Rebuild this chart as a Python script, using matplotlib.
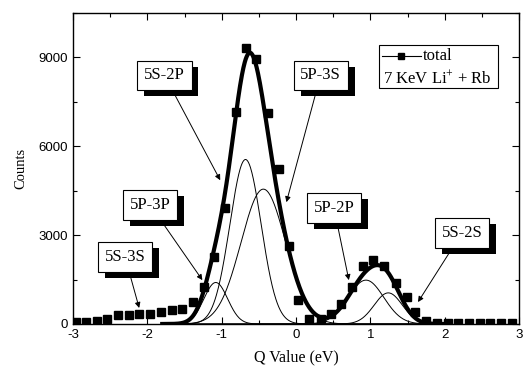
import numpy as np
import matplotlib
matplotlib.use("Agg")
import matplotlib.pyplot as plt
import matplotlib.patheffects as pe
from matplotlib.ticker import MultipleLocator, FuncFormatter
from matplotlib.patches import Rectangle
from matplotlib.lines import Line2D

plt.rcParams["mathtext.fontset"] = "custom"
plt.rcParams["mathtext.rm"] = "Liberation Serif"
plt.rcParams["mathtext.it"] = "Liberation Serif:italic"

# measured data points (total)
q_data = [-2.96, -2.82, -2.68, -2.54, -2.39, -2.25, -2.11, -1.96, -1.82, -1.67,
          -1.53, -1.39, -1.24, -1.10, -0.96, -0.81, -0.67, -0.54, -0.38, -0.23,
          -0.09, 0.03, 0.18, 0.33, 0.47, 0.61, 0.75, 0.90, 1.04, 1.18,
          1.34, 1.49, 1.60, 1.75, 1.89, 2.04, 2.18, 2.33, 2.47, 2.61, 2.76, 2.90]
counts_data = [80, 80, 110, 170, 290, 290, 350, 330, 390, 480,
               520, 740, 1250, 2260, 3910, 7150, 9310, 8940, 7120, 5220,
               2620, 800, 170, 170, 330, 670, 1240, 1960, 2170, 1940,
               1370, 920, 400, 110, 20, 20, 20, 20, 20, 20, 20, 20]

# fitted Gaussian components: name, centre (eV), amplitude (counts), sigma (eV)
comp_names = ["5P-3P", "5S-2P", "5P-3S", "5P-2P", "5S-2S"]
comp_centres = [-1.08, -0.68, -0.44, 0.94, 1.24]
comp_amps = [1400, 5550, 4550, 1480, 1050]
comp_sigmas = [0.16, 0.21, 0.30, 0.24, 0.19]

# annotation labels: text position and arrow tip (data coords)
label_names = ["5S-2P", "5P-3S", "5P-3P", "5S-3S", "5P-2P", "5S-2S"]
label_text_xy = [(-1.77, 8390), (0.33, 8390), (-1.96, 4010), (-2.30, 2260), (0.51, 3910), (2.23, 3070)]
label_tip_xy = [(-1.02, 4850), (-0.13, 4110), (-1.26, 1480), (-2.11, 540), (0.71, 1480), (1.64, 740)]

legend_labels = ["total", "7 KeV Li$^{+}$ + Rb"]

serif = ["Liberation Serif", "DejaVu Serif"]
sans = ["Liberation Sans", "DejaVu Sans"]

fig = plt.figure(figsize=(5.23, 3.67), dpi=100)
ax = fig.add_axes([0.1396, 0.1172, 0.853, 0.848])

xs = np.linspace(-1.8, 2.0, 600)
total = np.zeros_like(xs)
for c, a, s in zip(comp_centres, comp_amps, comp_sigmas):
    g = a * np.exp(-(xs - c) ** 2 / (2 * s ** 2))
    total += g
    ax.plot(xs, g, color="black", lw=0.7)
ax.plot(xs, total, color="black", lw=3.0)
ax.plot(q_data, counts_data, ls="none", marker="s", ms=5.5, color="black")

ax.set_xlim(-3, 3)
ax.set_ylim(0, 10500)
ax.xaxis.set_major_locator(MultipleLocator(1))
ax.xaxis.set_minor_locator(MultipleLocator(0.5))
ax.yaxis.set_major_locator(MultipleLocator(3000))
ax.yaxis.set_minor_locator(MultipleLocator(1500))
ax.tick_params(which="both", direction="in", top=True, right=True, width=0.8)
ax.tick_params(which="major", length=5, labelsize=9.5)
ax.tick_params(which="minor", length=3)
ax.xaxis.set_major_formatter(FuncFormatter(lambda v, p: f"{v:g}"))
for lab in ax.get_xticklabels() + ax.get_yticklabels():
    lab.set_fontfamily(sans)
for sp in ax.spines.values():
    sp.set_linewidth(1.0)

ax.set_xlabel("Q Value (eV)", fontfamily=serif, fontsize=11.5, labelpad=6)
ax.set_ylabel("Counts", fontfamily=serif, fontsize=10.5, labelpad=8)

for name, txy, tip in zip(label_names, label_text_xy, label_tip_xy):
    t = ax.annotate(name, xy=tip, xytext=txy, ha="center", va="center",
                    fontfamily=serif, fontsize=12,
                    bbox=dict(boxstyle="square,pad=0.4", fc="white", ec="black", lw=0.8),
                    arrowprops=dict(arrowstyle="-|>", color="black", lw=0.7,
                                    mutation_scale=8, shrinkA=0, shrinkB=0))
    t.get_bbox_patch().set_path_effects([
        pe.SimplePatchShadow(offset=(5, -4.3), shadow_rgbFace="black", alpha=1.0),
        pe.Normal()])

# legend box drawn manually (axes coordinates)
ax.add_patch(Rectangle((0.685, 0.759), 0.268, 0.138, transform=ax.transAxes,
                       fc="white", ec="black", lw=0.8, zorder=5))
ax.add_line(Line2D([0.692, 0.779], [0.862, 0.862], transform=ax.transAxes,
                   color="black", lw=0.8, zorder=6))
ax.add_line(Line2D([0.7355], [0.862], transform=ax.transAxes, color="black",
                   marker="s", ms=5, ls="none", zorder=6))
ax.text(0.785, 0.862, legend_labels[0], transform=ax.transAxes, ha="left",
        va="center", fontfamily=serif, fontsize=12, zorder=7)
ax.text(0.694, 0.788, legend_labels[1], transform=ax.transAxes, ha="left",
        va="center", fontfamily=serif, fontsize=12, zorder=7)

fig.savefig("out.png", dpi=100)
